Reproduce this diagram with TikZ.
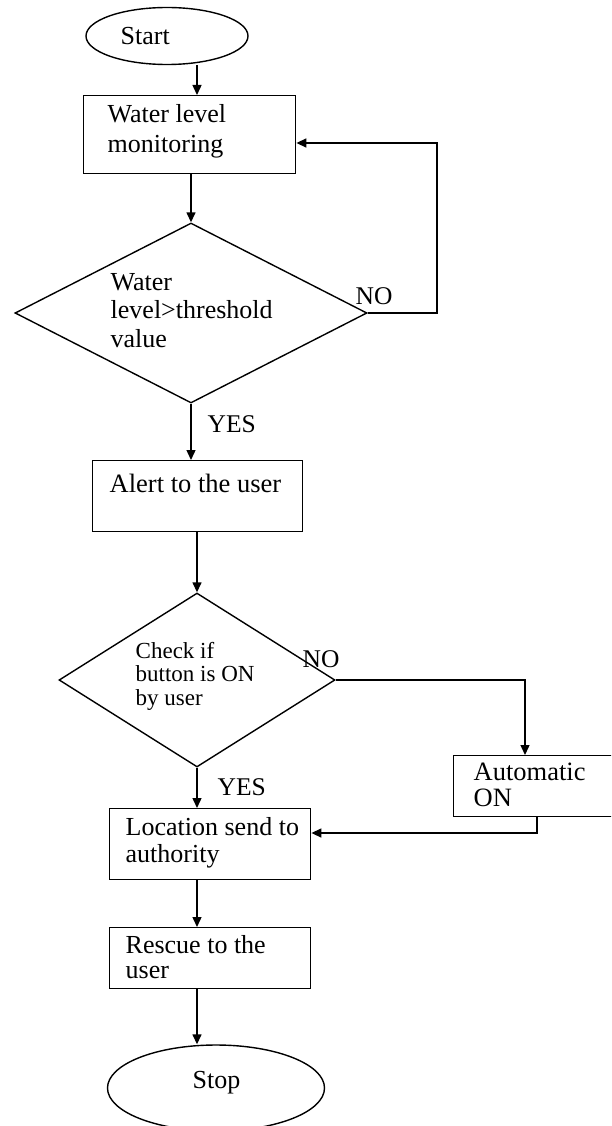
\documentclass[tikz,border=0pt]{standalone}
\usepackage{fontspec}
\setmainfont{Liberation Serif}
\usetikzlibrary{shapes.geometric,arrows.meta}
\begin{document}
\begin{tikzpicture}[x=1pt,y=1pt,line width=1.4pt,
  arr/.style={-{Triangle[length=10pt,width=9pt]}},
  box/.style={draw,rectangle,inner sep=0pt,anchor=north west},
  term/.style={draw,ellipse,inner sep=0pt},
  decision/.style={draw,diamond,inner sep=0pt},
  txt/.style={inner sep=0pt,anchor=base west,align=left}]
\useasboundingbox (0,0) rectangle (611,-1126);
\clip (0,0) rectangle (611,-1126);

% shapes
\node[term,minimum width=162pt,minimum height=57pt] (start) at (167,-36) {};
\node[box,minimum width=212pt,minimum height=78pt] (box1) at (83,-95) {};
\node[decision,minimum width=352pt,minimum height=180pt] (d1) at (191,-313) {};
\node[box,minimum width=210pt,minimum height=71pt] (box2) at (92,-460) {};
\node[decision,minimum width=276pt,minimum height=174pt] (d2) at (197,-680) {};
\node[box,minimum width=165pt,minimum height=61pt] (box3) at (453,-755) {};
\node[box,minimum width=201pt,minimum height=71pt] (box4) at (109,-808) {};
\node[box,minimum width=201pt,minimum height=61pt] (box5) at (109,-927) {};
\node[term,minimum width=217pt,minimum height=86pt] (stop) at (216,-1088) {};

% texts (anchor = baseline of the last line)
\node[txt,font=\fontsize{26}{30}\selectfont] (tstart) at (120,-45) {Start};
\node[txt,font=\fontsize{26}{30}\selectfont] (t1) at (107,-153) {Water level\\monitoring};
\node[txt,font=\fontsize{26}{28.5}\selectfont] (t2) at (110,-347) {Water\\level>threshold\\value};
\node[txt,font=\fontsize{26.5}{30}\selectfont] (t3) at (109,-492) {Alert to the user};
\node[txt,font=\fontsize{23}{23.5}\selectfont] (t4) at (135,-705) {Check if\\button is ON\\by user};
\node[txt,font=\fontsize{26.5}{26}\selectfont] (t5) at (473,-806) {Automatic\\ON};
\node[txt,font=\fontsize{26}{27}\selectfont] (t6) at (125,-862) {Location send to\\authority};
\node[txt,font=\fontsize{26}{25}\selectfont] (t7) at (125,-978) {Rescue to the\\user};
\node[txt,font=\fontsize{26}{30}\selectfont] (tstop) at (192,-1088) {Stop};

% labels
\node[txt,font=\fontsize{25.5}{30}\selectfont] (no1) at (355,-304) {NO};
\node[txt,font=\fontsize{25.5}{30}\selectfont] (yes1) at (207,-432) {YES};
\node[txt,font=\fontsize{25.5}{30}\selectfont] (no2) at (302,-667) {NO};
\node[txt,font=\fontsize{25.5}{30}\selectfont] (yes2) at (217,-795) {YES};

% helper coordinates
\coordinate (xa) at (197,0);
\coordinate (loop) at (437,-143);
\coordinate (b3x) at (525,0);
\coordinate (ret) at (537,-833);

% connectors
\draw[arr] (start.south -| xa) -- (box1.north -| xa);
\draw[arr] (box1.south -| d1.north) -- (d1.north);
\draw[arr] (d1.east) -| (loop) -- (box1.east |- loop);
\draw[arr] (d1.south) -- (d1.south |- box2.north);
\draw[arr] (box2.south -| d2.north) -- (d2.north);
\draw[arr] (d2.east) -| (box3.north -| b3x);
\draw[arr] (box3.south -| ret) -- (ret) -- (box4.east |- ret);
\draw[arr] (d2.south) -- (d2.south |- box4.north);
\draw[arr] (box4.south -| d2.south) -- (box5.north -| d2.south);
\draw[arr] (box5.south -| d2.south) -- (stop.north -| d2.south);
\end{tikzpicture}
\end{document}
